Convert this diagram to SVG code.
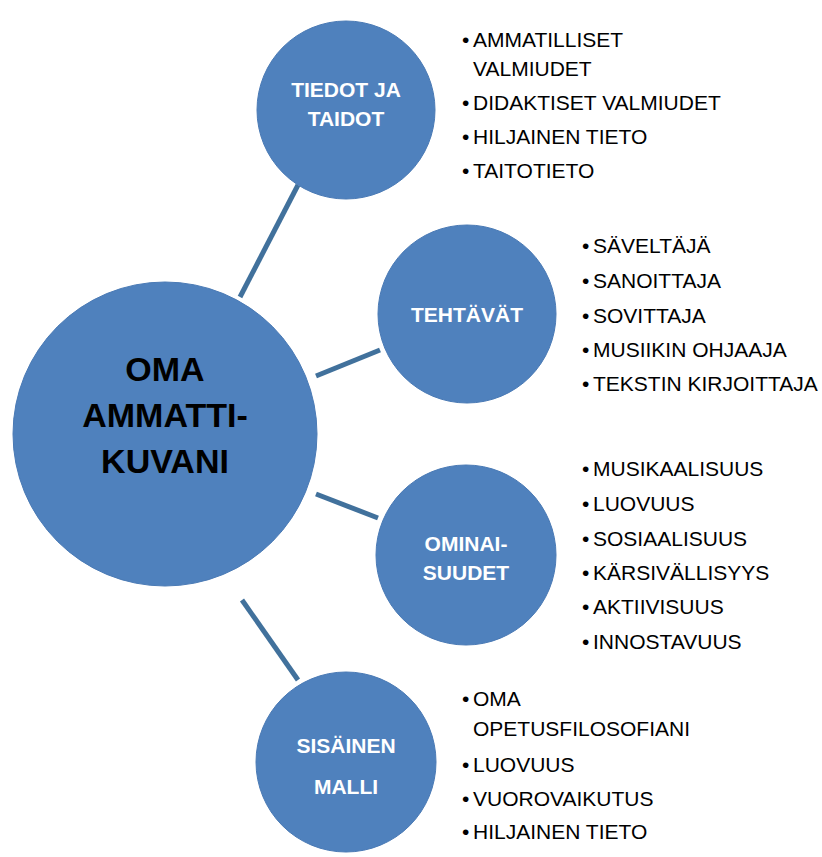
<svg xmlns="http://www.w3.org/2000/svg" width="822" height="857" viewBox="0 0 822 857">
<style>
.c{fill:#4f81bd;stroke:#4a7ab5;stroke-width:1}
.lbl{font-family:"Liberation Sans",Arial,sans-serif;font-weight:bold;font-size:21px;fill:#ffffff;text-anchor:middle}
.main{font-family:"Liberation Sans",Arial,sans-serif;font-weight:bold;font-size:34px;fill:#000000;text-anchor:middle}
.li{font-family:"Liberation Sans",Arial,sans-serif;font-size:21px;fill:#000000}
.con line{stroke:#41719c;stroke-width:5}
</style>
<rect width="822" height="857" fill="#ffffff"/>
<g id="connectors" class="con">
<line x1="240" y1="297" x2="298" y2="185"/>
<line x1="316" y1="376" x2="380" y2="350"/>
<line x1="316" y1="494" x2="378" y2="518"/>
<line x1="242" y1="600" x2="298" y2="680"/>
</g>
<g id="main">
<circle class="c" cx="165" cy="434" r="152"/>
<text class="main" x="165" y="381">OMA</text>
<text class="main" x="165" y="427">AMMATTI-</text>
<text class="main" x="165" y="473">KUVANI</text>
</g>
<g id="tiedot">
<circle class="c" cx="346" cy="110" r="89"/>
<text class="lbl" x="346" y="97">TIEDOT JA</text>
<text class="lbl" x="346" y="126">TAIDOT</text>
</g>
<g id="tiedot-list" class="li">
<text><tspan x="462" y="47">•</tspan><tspan x="473" y="47">AMMATILLISET</tspan></text>
<text x="473" y="76">VALMIUDET</text>
<text><tspan x="462" y="110">•</tspan><tspan x="473" y="110">DIDAKTISET VALMIUDET</tspan></text>
<text><tspan x="462" y="144">•</tspan><tspan x="473" y="144">HILJAINEN TIETO</tspan></text>
<text><tspan x="462" y="178">•</tspan><tspan x="473" y="178">TAITOTIETO</tspan></text>
</g>
<g id="tehtavat">
<circle class="c" cx="467" cy="314" r="89"/>
<text class="lbl" x="467" y="322">TEHTÄVÄT</text>
</g>
<g id="tehtavat-list" class="li">
<text><tspan x="582" y="253">•</tspan><tspan x="593" y="253">SÄVELTÄJÄ</tspan></text>
<text><tspan x="582" y="288">•</tspan><tspan x="593" y="288">SANOITTAJA</tspan></text>
<text><tspan x="582" y="323">•</tspan><tspan x="593" y="323">SOVITTAJA</tspan></text>
<text><tspan x="582" y="357">•</tspan><tspan x="593" y="357">MUSIIKIN OHJAAJA</tspan></text>
<text><tspan x="582" y="391">•</tspan><tspan x="593" y="391">TEKSTIN KIRJOITTAJA</tspan></text>
</g>
<g id="ominaisuudet">
<circle class="c" cx="466" cy="555" r="90"/>
<text class="lbl" x="466" y="551">OMINAI-</text>
<text class="lbl" x="466" y="580">SUUDET</text>
</g>
<g id="ominaisuudet-list" class="li">
<text><tspan x="582" y="476">•</tspan><tspan x="593" y="476">MUSIKAALISUUS</tspan></text>
<text><tspan x="582" y="511">•</tspan><tspan x="593" y="511">LUOVUUS</tspan></text>
<text><tspan x="582" y="546">•</tspan><tspan x="593" y="546">SOSIAALISUUS</tspan></text>
<text><tspan x="582" y="580">•</tspan><tspan x="593" y="580">KÄRSIVÄLLISYYS</tspan></text>
<text><tspan x="582" y="614">•</tspan><tspan x="593" y="614">AKTIIVISUUS</tspan></text>
<text><tspan x="582" y="649">•</tspan><tspan x="593" y="649">INNOSTAVUUS</tspan></text>
</g>
<g id="sisainen">
<circle class="c" cx="346" cy="762" r="90"/>
<text class="lbl" x="346" y="753">SISÄINEN</text>
<text class="lbl" x="346" y="794">MALLI</text>
</g>
<g id="sisainen-list" class="li">
<text><tspan x="462" y="706">•</tspan><tspan x="473" y="706">OMA</tspan></text>
<text x="473" y="736">OPETUSFILOSOFIANI</text>
<text><tspan x="462" y="772">•</tspan><tspan x="473" y="772">LUOVUUS</tspan></text>
<text><tspan x="462" y="806">•</tspan><tspan x="473" y="806">VUOROVAIKUTUS</tspan></text>
<text><tspan x="462" y="839">•</tspan><tspan x="473" y="839">HILJAINEN TIETO</tspan></text>
</g>
</svg>
